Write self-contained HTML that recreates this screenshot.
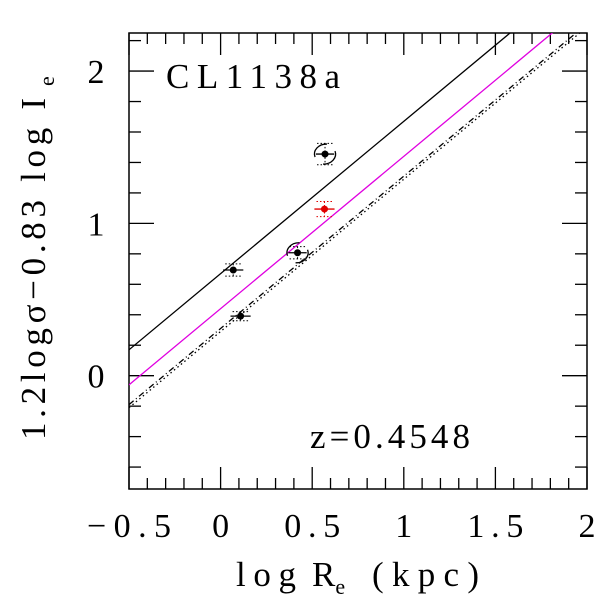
<!DOCTYPE html>
<html><head><meta charset="utf-8"><style>
html,body{margin:0;padding:0;background:#fff;}
svg text{font-family:"Liberation Serif",serif;fill:#000;}
</style></head><body>
<svg id="chart" width="600" height="600" viewBox="0 0 600 600" xmlns="http://www.w3.org/2000/svg">
<defs><clipPath id="clip"><rect x="129" y="33" width="458" height="456"/></clipPath></defs>
<rect x="129" y="33" width="458" height="456" fill="none" stroke="#000" stroke-width="1.5"/>
<g id="ticks"></g>
<g id="lines" clip-path="url(#clip)"></g>
<g id="points"></g>
<text x="166" y="88" font-size="35" textLength="174" lengthAdjust="spacing">CL1138a</text>
<text x="310" y="448" font-size="35" textLength="160" lengthAdjust="spacing">z=0.4548</text>
<text x="236" y="586" font-size="35" textLength="60" lengthAdjust="spacing">log</text>
<text x="312" y="586" font-size="35">R<tspan font-size="22" dy="8">e</tspan></text>
<text x="372" y="586" font-size="35" textLength="107" lengthAdjust="spacing">(kpc)</text>
<text transform="translate(45,440) rotate(-90)" font-size="35" textLength="342" lengthAdjust="spacing">1.2logσ−0.83 log I</text>
<text transform="translate(54,86) rotate(-90)" font-size="22">e</text>
</svg>
<script>
const xTicks=[-0.5,0,0.5,1,1.5,2];
const xTickLabels=["−0.5","0","0.5","1","1.5","2"];
const yTicks=[0,1,2];
const yTickLabels=["0","1","2"];
const ptX=[0.069,0.109,0.42,0.570,0.567];
const ptY=[0.694,0.391,0.807,1.455,1.094];
const ptXErr=[0.055,0.055,0.05,0.05,0.055];
const ptYErr=[0.04,0.03,0.04,0.07,0.05];
const ptColor=["#000","#000","#000","#000","#e00000"];
const ptSpiral=[false,false,true,true,false];
const lineSlope=[1,1,1,1];
const lineIntercept=[0.67,0.44,0.31,0.29];
const lineColor=["#000","#e000e0","#000","#000"];
const lineDash=["","","6,3,1,3","1.5,3"];
const lineName=["fit-line-solid","fit-line-magenta","fit-line-dashed","fit-line-dotted"];

const X0=129,X1=587,Y0=489,Y1=33,xmin=-0.5,xmax=2,ymin=-0.744,ymax=2.25;
const sx=v=>X0+(v-xmin)/(xmax-xmin)*(X1-X0);
const sy=v=>Y0-(v-ymin)/(ymax-ymin)*(Y0-Y1);
const NS="http://www.w3.org/2000/svg";
function mk(t,a,p){const e=document.createElementNS(NS,t);for(const k in a)e.setAttribute(k,a[k]);p.appendChild(e);return e;}
const tg=document.getElementById('ticks');
for(let i=-5;i<=20;i++){const v=i/10,x=sx(v),maj=i%5===0,L=maj?22:11;
 let t=mk('line',{x1:x,x2:x,y1:Y0,y2:Y0-L,stroke:'#000','stroke-width':1.3},tg);
 
 t=mk('line',{x1:x,x2:x,y1:Y1,y2:Y1+L,stroke:'#000','stroke-width':1.3},tg);
 }
for(let i=-3;i<=11;i++){const v=i/5;if(v<ymin||v>ymax)continue;const y=sy(v),maj=i%5===0,L=maj?25:12;
 let t=mk('line',{x1:X0,x2:X0+L,y1:y,y2:y,stroke:'#000','stroke-width':1.3},tg);
 
 t=mk('line',{x1:X1,x2:X1-L,y1:y,y2:y,stroke:'#000','stroke-width':1.3},tg);
 }
xTicks.forEach((v,i)=>{const lab=xTickLabels[i];
 const t=mk('text',{x:sx(v),y:537,'font-size':34,'text-anchor':'middle'},tg);
 if(lab.length>1){t.setAttribute('textLength',lab.length===4?84:56);t.setAttribute('lengthAdjust','spacing');}
 t.textContent=lab;
 });
yTicks.forEach((v,i)=>{const t=mk('text',{x:96,y:sy(v)+12,'font-size':34,'text-anchor':'middle'},tg);t.textContent=yTickLabels[i];
 });
const lg=document.getElementById('lines');
lineSlope.forEach((m,i)=>{const b=lineIntercept[i];
 const l=mk('line',{x1:sx(xmin),y1:sy(m*xmin+b),x2:sx(xmax),y2:sy(m*xmax+b),stroke:lineColor[i],'stroke-width':1.3},lg);
 if(lineDash[i])l.setAttribute('stroke-dasharray',lineDash[i]);
 });
const pg=document.getElementById('points');
ptX.forEach((v,i)=>{const g=mk('g',{},pg);
 
 const x=sx(v),y=sy(ptY[i]),c=ptColor[i];
 mk('line',{x1:sx(v-ptXErr[i]),x2:sx(v+ptXErr[i]),y1:y,y2:y,stroke:c,'stroke-width':1.3},g);
 const yt=sy(ptY[i]+ptYErr[i]),yb=sy(ptY[i]-ptYErr[i]);
 mk('line',{x1:x,x2:x,y1:yt,y2:yb,stroke:c,'stroke-width':1,'stroke-dasharray':'1.5,2'},g);
 mk('line',{x1:x-8,x2:x+8,y1:yt,y2:yt,stroke:c,'stroke-width':1,'stroke-dasharray':'1.5,2'},g);
 mk('line',{x1:x-8,x2:x+8,y1:yb,y2:yb,stroke:c,'stroke-width':1,'stroke-dasharray':'1.5,2'},g);
 mk('circle',{cx:x,cy:y,r:3.5,fill:c},g);
 if(ptSpiral[i]){
  mk('path',{d:`M ${x+2} ${y-10} A 12 10 0 0 0 ${x-10} ${y+3}`,fill:'none',stroke:'#000','stroke-width':1.3},g);
  mk('path',{d:`M ${x-2} ${y+10} A 12 10 0 0 0 ${x+10} ${y-3}`,fill:'none',stroke:'#000','stroke-width':1.3},g);
 }
});
</script>
</body></html>
